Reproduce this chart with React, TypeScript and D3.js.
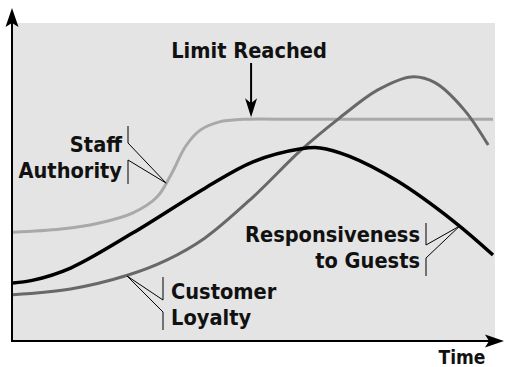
import React, { useEffect, useRef } from 'react';
import * as d3 from 'd3';

// curves: time 0..100, level 0..100
const staffTime = [0, 10, 18, 25, 30, 33, 36, 39, 43, 48, 60, 80, 100];
const staffAuthority = [34.0, 35.0, 36.9, 40.1, 45.1, 52.4, 61.2, 66.2, 68.8, 69.6, 69.6, 69.6, 69.6];
const responseTime = [0, 4, 12, 25, 40, 50, 60, 64, 70, 80, 92, 100];
const responsiveness = [18.0, 18.8, 22.7, 33.8, 47.9, 56.2, 60.3, 60.6, 58.0, 50.2, 37.2, 26.8];
const loyaltyTime = [0, 12, 24, 32, 40, 50, 60, 68, 76, 83, 88, 94, 99];
const customerLoyalty = [14.3, 16.1, 20.5, 25.2, 32.2, 45.1, 59.9, 70.0, 78.9, 83.0, 81.1, 72.6, 61.5];

const seriesNames = ['Staff Authority', 'Responsiveness to Guests', 'Customer Loyalty'];
const limitLabel = 'Limit Reached';
const limitTime = 49.6;
const axisLabel = 'Time';

const FONT = "'DejaVu Sans Condensed', 'DejaVu Sans', sans-serif";

function App() {
  const node = useRef<SVGSVGElement | null>(null);

  useEffect(() => {
    const width = 505,
      height = 367;
    const svg = d3.select(node.current);
    svg.selectAll('*').remove();

    const x = d3.scaleLinear().domain([0, 100]).range([13, 493]);
    const y = d3.scaleLinear().domain([0, 100]).range([340, 23]);

    svg.append('rect').attr('width', width).attr('height', height).attr('fill', '#fff');
    svg
      .append('rect')
      .attr('x', 12)
      .attr('y', 23)
      .attr('width', 483)
      .attr('height', 318)
      .attr('fill', '#e4e4e4');

    const line = d3
      .line<[number, number]>()
      .x(d => x(d[0]))
      .y(d => y(d[1]))
      .curve(d3.curveCatmullRom.alpha(0.5));

    const series = [
      { t: staffTime, v: staffAuthority, color: '#a9a9a9', w: 3 },
      { t: loyaltyTime, v: customerLoyalty, color: '#686868', w: 3 },
      { t: responseTime, v: responsiveness, color: '#000', w: 3.5 }
    ];
    series.forEach(s => {
      svg
        .append('path')
        .datum(s.t.map((t, i) => [t, s.v[i]] as [number, number]))
        .attr('d', line)
        .attr('fill', 'none')
        .attr('stroke', s.color)
        .attr('stroke-width', s.w);
    });

    // axes with arrowheads
    svg.append('line').attr('x1', 12).attr('y1', 342).attr('x2', 12).attr('y2', 20)
      .attr('stroke', '#000').attr('stroke-width', 2);
    svg.append('path').attr('d', 'M12,8 L5.5,27 L12,23 L18.5,27 Z').attr('fill', '#000');
    svg.append('line').attr('x1', 11).attr('y1', 341).attr('x2', 494).attr('y2', 341)
      .attr('stroke', '#000').attr('stroke-width', 2);
    svg.append('path').attr('d', 'M504,341 L485,334.5 L489,341 L485,347.5 Z').attr('fill', '#000');

    const text = (tx: number, ty: number, s: string, anchor: string, size = 21.6) =>
      svg
        .append('text')
        .attr('x', tx)
        .attr('y', ty)
        .attr('text-anchor', anchor)
        .attr('font-family', FONT)
        .attr('font-weight', 'bold')
        .attr('font-size', size)
        .attr('fill', '#111')
        .text(s);

    text(462, 364, axisLabel, 'middle', 19);

    // limit reached arrow
    const ax = x(limitTime);
    const tipY = y(d3.max(staffAuthority)!) - 2;
    text(ax - 2, 58, limitLabel, 'middle');
    svg.append('line').attr('x1', ax).attr('y1', 63).attr('x2', ax).attr('y2', tipY - 12)
      .attr('stroke', '#000').attr('stroke-width', 2);
    svg.append('path')
      .attr('d', `M${ax},${tipY} L${ax - 6},${tipY - 19} L${ax},${tipY - 14} L${ax + 6},${tipY - 19} Z`)
      .attr('fill', '#000');

    const leader = (pts: [number, number][]) =>
      svg
        .append('path')
        .attr('d', d3.line()(pts))
        .attr('fill', 'none')
        .attr('stroke', '#000')
        .attr('stroke-width', 1);

    // Staff Authority
    const sa: [number, number] = [x(31.9), y(49.5)];
    const [staff1, staff2] = ['Staff', 'Authority'];
    text(122, 152, staff1, 'end');
    text(122, 178, staff2, 'end');
    leader([[128, 126], [128, 143], sa]);
    leader([[128, 184], [128, 160], sa]);

    // Responsiveness to Guests
    const rg: [number, number] = [x(93.1), y(36.0)];
    text(420, 242, 'Responsiveness', 'end');
    text(420, 268, 'to Guests', 'end');
    leader([[426, 223], [426, 245], rg]);
    leader([[426, 276], [426, 258], rg]);

    // Customer Loyalty
    const cl: [number, number] = [x(23.75), y(20.2)];
    text(171, 299, 'Customer', 'start');
    text(171, 325, 'Loyalty', 'start');
    leader([[163, 277], [163, 300], cl]);
    leader([[163, 330], [163, 312], cl]);

    svg.attr('aria-label', seriesNames.join(', '));
  }, []);

  return (
    <svg
      ref={node}
      width={505}
      height={367}
      style={{ position: 'absolute', left: 0, top: 0, display: 'block' }}
    />
  );
}

export default App;
